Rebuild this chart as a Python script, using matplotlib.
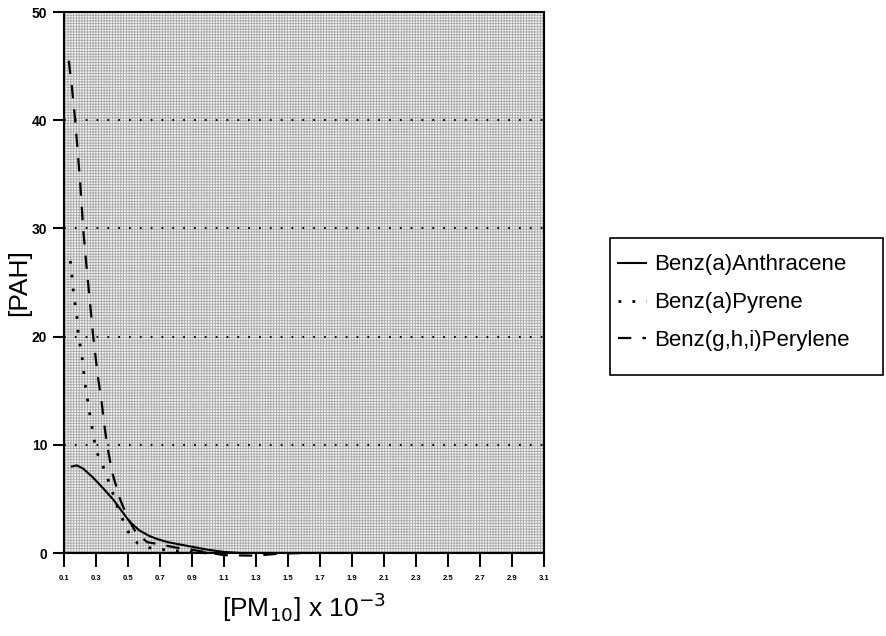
import matplotlib.pyplot as plt
import matplotlib.patches as mpatches

plt.rcParams['font.family'] = ['Liberation Sans', 'DejaVu Sans']
plt.rcParams['hatch.linewidth'] = 0.6
plt.rcParams['hatch.color'] = '#a8a8a8'

# PM10 (x 10^-3) vs PAH concentration
anth_x = [0.15, 0.18, 0.22, 0.28, 0.35, 0.41, 0.46, 0.51, 0.57, 0.63, 0.68, 0.75, 0.82, 0.91, 1.0, 1.1, 1.2]
anth_y = [8.0, 8.1, 7.8, 7.0, 5.9, 4.9, 3.9, 2.9, 2.1, 1.6, 1.3, 1.0, 0.8, 0.55, 0.3, 0.1, 0.0]

pyr_x = [0.14, 0.16, 0.18, 0.19, 0.21, 0.235, 0.265, 0.30, 0.35, 0.39, 0.44, 0.51, 0.56, 0.65, 0.8, 1.0]
pyr_y = [27.0, 24.0, 22.0, 20.0, 18.5, 15.3, 12.5, 9.5, 7.8, 6.2, 4.0, 1.7, 0.9, 0.4, 0.2, 0.0]

per_x = [0.13, 0.15, 0.17, 0.20, 0.22, 0.24, 0.283, 0.31, 0.335, 0.356, 0.37, 0.40, 0.45, 0.50,
         0.55, 0.62, 0.7, 0.8, 0.9, 1.0, 1.1, 1.3, 1.45, 1.6]
per_y = [45.5, 43.0, 40.0, 34.5, 30.0, 26.6, 20.0, 16.5, 14.0, 11.4, 10.0, 7.5, 5.0, 3.2,
         1.9, 1.0, 0.8, 0.5, 0.3, 0.05, -0.2, -0.25, -0.05, 0.0]

xticks = [0.1, 0.3, 0.5, 0.7, 0.9, 1.1, 1.3, 1.5, 1.7, 1.9, 2.1, 2.3, 2.5, 2.7, 2.9, 3.1]
yticks = [0, 10, 20, 30, 40, 50]

fig = plt.figure(figsize=(8.86, 6.36), dpi=100)
ax = fig.add_axes([0.0722, 0.1305, 0.5418, 0.8505])
ax.set_facecolor('#f4f4f4')
ax.add_patch(mpatches.Rectangle((0, 0), 1, 1, transform=ax.transAxes, facecolor='none',
                                edgecolor='#a8a8a8', hatch='++++++', lw=0, zorder=0))

ax.plot(anth_x, anth_y, color='black', lw=1.5, ls='-', label='Benz(a)Anthracene', clip_on=False)
ax.plot(pyr_x, pyr_y, color='black', lw=2, ls=(0, (1, 4)), label='Benz(a)Pyrene', clip_on=False)
ax.plot(per_x, per_y, color='black', lw=1.6, ls=(0, (6, 5)), label='Benz(g,h,i)Perylene', clip_on=False)

ax.set_xlim(0.1, 3.1)
ax.set_ylim(0, 50)
ax.set_xticks(xticks)
ax.set_xticklabels([f'{t:.1f}' for t in xticks], fontsize=5.5, fontweight='bold')
ax.set_yticks(yticks)
ax.set_yticklabels([str(t) for t in yticks], fontsize=10, fontweight='bold')
ax.tick_params(axis='x', length=10, width=1.5, pad=6)
ax.tick_params(axis='y', length=8, width=1.5, pad=4)
ax.yaxis.grid(True, color='black', lw=1.3, ls=(0, (1, 5)))
ax.set_axisbelow(False)
for s in ax.spines.values():
    s.set_linewidth(1.5)

ax.set_xlabel(r'[PM$_{\mathit{10}}$] x 10$^{-3}$', fontsize=19, labelpad=6)
ax.set_ylabel('[PAH]', fontsize=19)
ax.yaxis.set_label_coords(-0.068, 0.5)

# legend box drawn separately so it can be wider than the entries
fig.patches.append(mpatches.Rectangle((0.6885, 0.41), 0.3085, 0.216, transform=fig.transFigure,
                                      facecolor='white', edgecolor='black', lw=1.2))
fig.legend(loc='upper left', bbox_to_anchor=(0.697, 0.600), fontsize=16, frameon=False,
           handlelength=1.3, handletextpad=0.35, labelspacing=0.76, borderpad=0, borderaxespad=0)

fig.savefig('out.png', dpi=100)
